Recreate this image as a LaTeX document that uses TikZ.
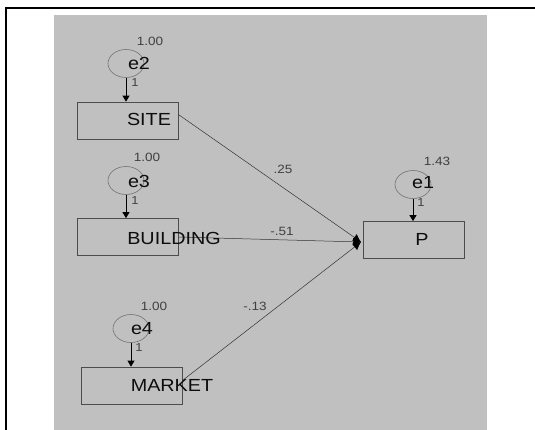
\documentclass[tikz,border=0pt]{standalone}
\usepackage{fontspec}
\setmainfont{Liberation Sans}
\newfontfamily\amosfont[FakeStretch=1.13]{Liberation Sans}
\usetikzlibrary{shapes.geometric,arrows.meta}
\definecolor{amosgray}{RGB}{192,192,192}

\begin{document}
\begin{tikzpicture}[
  x=1pt,y=-1pt,
  >={Triangle[length=6pt,width=7pt]},
  obsbox/.style={draw=black!70,line width=0.8pt,minimum width=101pt,
                 minimum height=37pt,inner sep=0pt},
  errnode/.style={ellipse,draw=black!55,line width=0.6pt,minimum width=36pt,
                  minimum height=28pt,inner sep=0pt},
  vname/.style={font=\amosfont\fontsize{17.5}{17.5}\selectfont,text=black!95,inner sep=0pt},
  est/.style={font=\amosfont\fontsize{12}{12}\selectfont,text=black!75,inner sep=0pt},
  one/.style={font=\amosfont\fontsize{11.5}{11.5}\selectfont,text=black!75,inner sep=0pt},
  fix/.style={->,line width=0.8pt,black},
  reg/.style={-{Latex[length=8pt,width=8pt,black]},line width=0.5pt,black!80}]

\path[use as bounding box,clip] (0,0) rectangle (535,429);
\draw[line width=1.5pt] (6,440) -- (6,8) -- (545,8);
\fill[amosgray] (54,15) rectangle (487,440);

% --- observed variables ---
\node[obsbox] (site) at (127.5,120.5) {};
\node[obsbox] (bldg) at (127.5,237) {};
\node[obsbox] (mkt)  at (131.5,385.5) {};
\node[obsbox] (p)    at (413.5,240) {};
\coordinate (tip) at (361,242);

% --- error terms ---
\node[errnode] (e2) at (126,63.5) {};
\node[errnode] (e3) at (126,180.5) {};
\node[errnode] (e4) at (131,328.5) {};
\node[errnode] (e1) at (413,184.5) {};

% --- regression paths ---
\draw[reg] ([yshift=6pt]site.east) -- (tip);
\draw[reg] (bldg.east) -- (tip);
\draw[reg] ([yshift=5pt]mkt.east) -- (tip);

% --- error loadings ---
\draw[fix] (e2.south) -- (e2.south |- site.north);
\draw[fix] (e3.south) -- (e3.south |- bldg.north);
\draw[fix] (e4.south) -- (e4.south |- mkt.north);
\draw[fix] (e1.south) -- (e1.south |- p.north);

% --- texts ---
\node[vname] (siteTxt) at (149,119) {SITE};
\node[vname] (bldgTxt) at (174,238) {BUILDING};
\node[vname] (mktTxt)  at (172,385) {MARKET};
\node[vname] (pTxt)    at (422,239) {P};

\node[vname] (e2Txt) at (139,63) {e2};
\node[vname] (e3Txt) at (139,181) {e3};
\node[vname] (e4Txt) at (142,329) {e4};
\node[vname] (e1Txt) at (423,183) {e1};

\node[est] (e2Var) at (150,41)  {1.00};
\node[est] (e3Var) at (147,157) {1.00};
\node[est] (e4Var) at (154,306) {1.00};
\node[est] (e1Var) at (437,161) {1.43};

\node[one] (e2One) at (135,83)  {1};
\node[one] (e3One) at (135,201) {1};
\node[one] (e4One) at (139,348) {1};
\node[one] (e1One) at (421,203) {1};

\node[est] (siteW) at (283,169) {.25};
\node[est] (bldgW) at (282,231) {-.51};
\node[est] (mktW)  at (255,306) {-.13};

\end{tikzpicture}
\end{document}
